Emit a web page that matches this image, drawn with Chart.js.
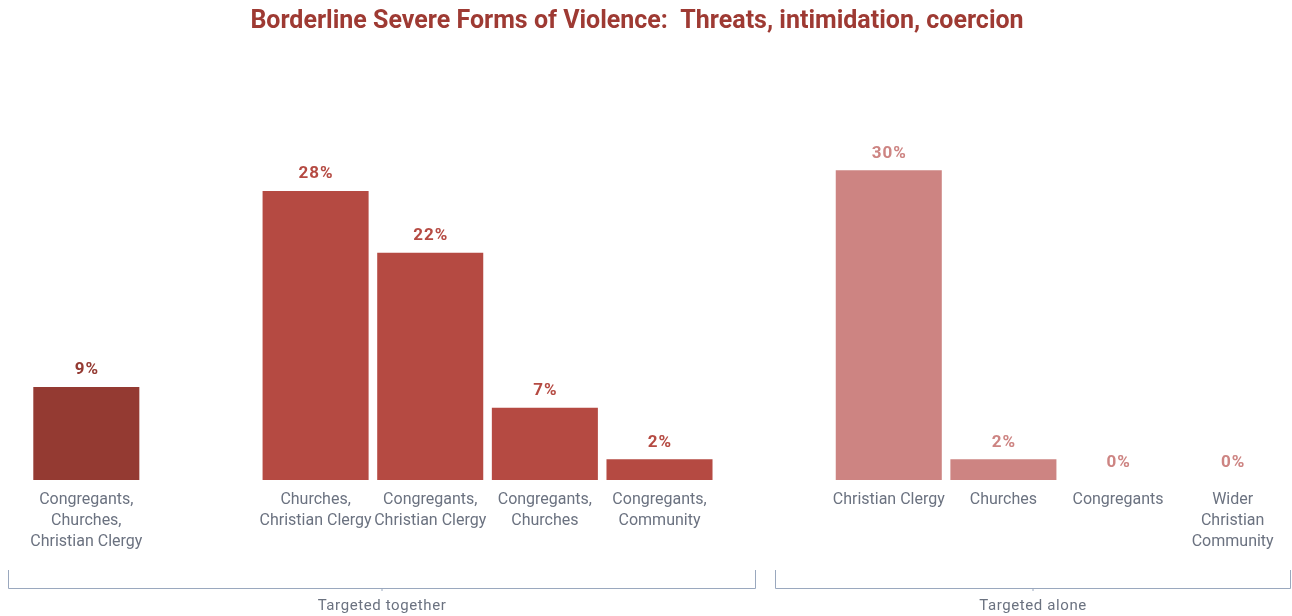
<!DOCTYPE html>
<html>
<head>
<meta charset="utf-8">
<script src="https://cdn.jsdelivr.net/npm/chart.js@4"></script>
<style>
  html, body { margin: 0; padding: 0; background: #fff; }
  #wrap { width: 1292px; height: 616px; }
</style>
</head>
<body>
<div id="wrap"><canvas id="violenceChart"></canvas></div>
<script>
// categories (empty ones are spacers between groups)
const categories = [
  ["Congregants,", "Churches,", "Christian Clergy"],
  "",
  ["Churches,", "Christian Clergy"],
  ["Congregants,", "Christian Clergy"],
  ["Congregants,", "Churches"],
  ["Congregants,", "Community"],
  "",
  "Christian Clergy",
  "Churches",
  "Congregants",
  ["Wider", "Christian", "Community"]
];
const shares = [9, null, 28, 22, 7, 2, null, 30, 2, 0, 0];
const barColors = ["#943A32", null, "#B54A42", "#B54A42", "#B54A42", "#B54A42", null,
  "#CD8482", "#CD8482", "#CD8482", "#CD8482"];
const groups = [
  { label: "Targeted together", from: -0.68, to: 5.83 },
  { label: "Targeted alone", from: 6.01, to: 10.5 }
];
const titleText = "Borderline Severe Forms of Violence:  Threats, intimidation, coercion";

// title, slightly left of the plot centre like the original
const chartTitle = {
  id: "chartTitle",
  afterDraw(chart) {
    const ctx = chart.ctx;
    ctx.save();
    ctx.font = "bold 25px Roboto";
    ctx.fillStyle = "#9E3A33";
    ctx.textAlign = "center";
    ctx.textBaseline = "middle";
    ctx.fillText(titleText, 637, 22);
    ctx.restore();
  }
};

// value labels above bars
const valueLabels = {
  id: "valueLabels",
  afterDatasetsDraw(chart) {
    const ctx = chart.ctx;
    const meta = chart.getDatasetMeta(0);
    ctx.save();
    ctx.font = "bold 17px Roboto";
    ctx.letterSpacing = "1px";
    ctx.textAlign = "center";
    ctx.textBaseline = "middle";
    meta.data.forEach((bar, i) => {
      if (shares[i] === null) return;
      ctx.fillStyle = barColors[i];
      ctx.fillText(shares[i] + "%", bar.x + 0.5, bar.y - 17);
    });
    ctx.restore();
  }
};

// group brackets under the axis
const groupBrackets = {
  id: "groupBrackets",
  afterDraw(chart) {
    const ctx = chart.ctx;
    const x = chart.scales.x;
    ctx.save();
    ctx.strokeStyle = "#9AA8BE";
    ctx.lineWidth = 1;
    ctx.font = "15px Roboto";
    ctx.letterSpacing = "0.6px";
    ctx.fillStyle = "#6B7280";
    ctx.textAlign = "center";
    ctx.textBaseline = "middle";
    groups.forEach(g => {
      const x1 = Math.round(x.getPixelForValue(g.from)) + 0.5;
      const x2 = Math.round(x.getPixelForValue(g.to)) + 0.5;
      ctx.beginPath();
      ctx.moveTo(x1, 570);
      ctx.lineTo(x1, 588.5);
      ctx.lineTo(x2, 588.5);
      ctx.lineTo(x2, 570);
      ctx.stroke();
      const mid = (x1 + x2) / 2;
      ctx.beginPath();
      ctx.moveTo(mid, 588.5);
      ctx.lineTo(mid, 591);
      ctx.stroke();
      ctx.fillText(g.label, mid, 606);
    });
    ctx.restore();
  }
};

new Chart(document.getElementById("violenceChart"), {
  type: "bar",
  data: {
    labels: categories,
    datasets: [{
      data: shares,
      backgroundColor: barColors,
      categoryPercentage: 1,
      barPercentage: 0.925
    }]
  },
  options: {
    responsive: true,
    maintainAspectRatio: false,
    animation: false,
    layout: { padding: { left: 29, right: 2, top: 67 } },
    plugins: {
      legend: { display: false },
      tooltip: { enabled: false },
      title: { display: false }
    },
    scales: {
      x: {
        grid: { display: false },
        border: { display: false },
        ticks: {
          color: "#6B7280",
          font: { family: "Roboto", size: 16, lineHeight: 1.3125 },
          padding: 1,
          maxRotation: 0,
          autoSkip: false
        },
        afterFit(scale) { scale.height = 136; }
      },
      y: {
        display: false,
        min: 0,
        max: 40
      }
    }
  },
  plugins: [valueLabels, groupBrackets, chartTitle]
});
</script>
</body>
</html>
